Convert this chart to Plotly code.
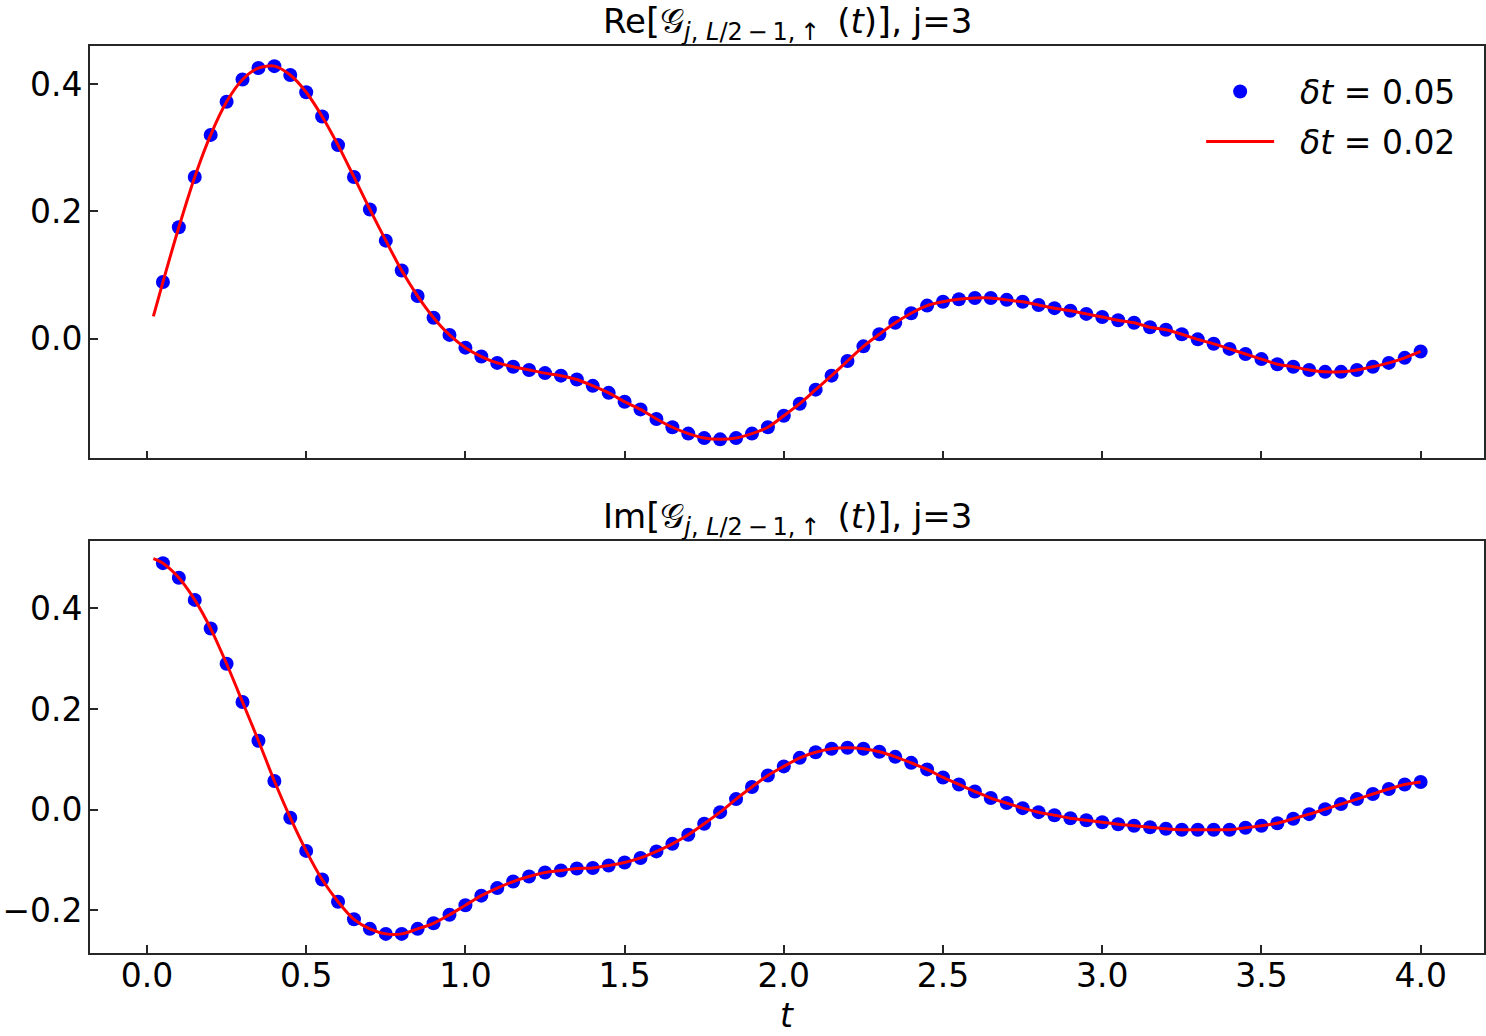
import plotly.graph_objects as go
from plotly.subplots import make_subplots

# ---- data ----
t_dots = [round(0.05 * k, 2) for k in range(1, 81)]  # 0.05 ... 4.00

re_dots = [
    0.089, 0.175, 0.254, 0.320, 0.372, 0.407, 0.425, 0.428, 0.414, 0.387,
    0.349, 0.304, 0.254, 0.203, 0.154, 0.107, 0.067, 0.033, 0.006, -0.014,
    -0.028, -0.038, -0.044, -0.049, -0.054, -0.058, -0.064, -0.074, -0.085, -0.099,
    -0.111, -0.126, -0.139, -0.149, -0.156, -0.158, -0.156, -0.149, -0.139, -0.121,
    -0.102, -0.080, -0.058, -0.035, -0.012, 0.007, 0.025, 0.040, 0.052, 0.058,
    0.062, 0.064, 0.064, 0.061, 0.058, 0.053, 0.048, 0.044, 0.039, 0.034,
    0.029, 0.025, 0.018, 0.014, 0.007, -0.001, -0.008, -0.016, -0.024, -0.032,
    -0.040, -0.044, -0.049, -0.052, -0.052, -0.049, -0.044, -0.038, -0.030, -0.020,
]

im_dots = [
    0.490, 0.461, 0.417, 0.360, 0.290, 0.214, 0.137, 0.057, -0.016, -0.082,
    -0.139, -0.183, -0.218, -0.237, -0.247, -0.247, -0.237, -0.226, -0.209, -0.190,
    -0.171, -0.156, -0.143, -0.133, -0.125, -0.121, -0.117, -0.116, -0.111, -0.105,
    -0.096, -0.083, -0.068, -0.050, -0.028, -0.005, 0.021, 0.045, 0.068, 0.086,
    0.103, 0.114, 0.121, 0.123, 0.121, 0.115, 0.105, 0.093, 0.080, 0.064,
    0.050, 0.036, 0.023, 0.013, 0.003, -0.005, -0.011, -0.017, -0.021, -0.025,
    -0.029, -0.032, -0.035, -0.038, -0.040, -0.040, -0.040, -0.040, -0.036, -0.032,
    -0.027, -0.018, -0.009, 0.001, 0.011, 0.021, 0.031, 0.041, 0.050, 0.055,
]

# red line (dt = 0.02): starts at t = 0.02, then follows the same curve
line_t_start = [0.02]
line_re_start = [0.035]
line_im_start = [0.499]
t_line = line_t_start + t_dots
re_line = line_re_start + re_dots
im_line = line_im_start + im_dots

x_ticks = [0.0, 0.5, 1.0, 1.5, 2.0, 2.5, 3.0, 3.5, 4.0]
y_ticks_top = [0.0, 0.2, 0.4]
y_ticks_bot = [-0.2, 0.0, 0.2, 0.4]

label_dots = "\u00a0\u00a0<i>δt</i> = 0.05"
label_line = "\u00a0\u00a0<i>δt</i> = 0.02"
BR_L = "<span style='font-size:36px'>[</span>"
BR_R = "<span style='font-size:36px'>]</span>"
SUB = "<sub><span style='font-size:24px'><i>j</i>, <i>L</i>/2\u2009−\u20091,\u2009↑</span></sub>"
title_re = f"Re{BR_L}𝒢{SUB}\u2002(<i>t</i>){BR_R}, j=3"
title_im = f"Im{BR_L}𝒢{SUB}\u2002(<i>t</i>){BR_R}, j=3"

FONT = "DejaVu Sans"
FS = 33
FS_TITLE = 34
BLUE = "#0000ff"
RED = "#ff0000"
AX = "#262626"

fig = make_subplots(rows=2, cols=1, shared_xaxes=True,
                    vertical_spacing=0.0905)

# top panel
fig.add_trace(go.Scatter(x=t_dots, y=re_dots, mode="markers", name=label_dots,
                         marker=dict(color=BLUE, size=14), legendgroup="a"),
              row=1, col=1)
fig.add_trace(go.Scatter(x=t_line, y=re_line, mode="lines", name=label_line,
                         line=dict(color=RED, width=3, shape="spline", smoothing=0.8),
                         legendgroup="b"),
              row=1, col=1)
# bottom panel
fig.add_trace(go.Scatter(x=t_dots, y=im_dots, mode="markers", name=label_dots,
                         marker=dict(color=BLUE, size=14), showlegend=False),
              row=2, col=1)
fig.add_trace(go.Scatter(x=t_line, y=im_line, mode="lines", name=label_line,
                         line=dict(color=RED, width=3, shape="spline", smoothing=0.8),
                         showlegend=False),
              row=2, col=1)

axis_common = dict(showline=True, mirror=True, linecolor=AX, linewidth=1.6,
                   ticks="inside", ticklen=8, tickwidth=1.6, tickcolor=AX,
                   showgrid=False, zeroline=False, automargin=False,
                   tickfont=dict(family=FONT, size=FS, color="black"))

fig.update_xaxes(**axis_common, range=[-0.179, 4.199], tickvals=x_ticks,
                 ticktext=[f"{v:.1f}" for v in x_ticks], ticklabelstandoff=-7)
fig.update_xaxes(showticklabels=False, row=1, col=1)

fig.update_yaxes(**axis_common, ticklabelstandoff=-1)
fig.update_yaxes(range=[-0.188, 0.4596], tickvals=y_ticks_top,
                 ticktext=[f"{v:.1f}" for v in y_ticks_top], row=1, col=1)
fig.update_yaxes(range=[-0.285, 0.535], tickvals=y_ticks_bot,
                 ticktext=[f"{v:.1f}".replace("-", "−") for v in y_ticks_bot], row=2, col=1)

fig.update_layout(
    width=1486, height=1036,
    margin=dict(l=90, r=2, t=46, b=83, autoexpand=False),
    paper_bgcolor="white", plot_bgcolor="white",
    font=dict(family=FONT, size=FS, color="black"),
    showlegend=True,
    legend=dict(x=0.9836, xanchor="right", y=0.9806, yanchor="top",
                bgcolor="rgba(255,255,255,0)", borderwidth=0,
                font=dict(family=FONT, size=FS, color="black"),
                itemwidth=68, tracegroupgap=4),
    annotations=[
        dict(text=title_re, xref="x domain", yref="y domain", x=0.5, y=1,
             xanchor="center", yanchor="bottom", yshift=-2, showarrow=False,
             font=dict(family=FONT, size=FS_TITLE, color="black")),
        dict(text=title_im, xref="x2 domain", yref="y2 domain", x=0.5, y=1,
             xanchor="center", yanchor="bottom", yshift=-2, showarrow=False,
             font=dict(family=FONT, size=FS_TITLE, color="black")),
        dict(text="<i>t</i>", xref="x2 domain", yref="y2 domain", x=0.5, y=0,
             xanchor="center", yanchor="top", yshift=-41, showarrow=False,
             font=dict(family=FONT, size=FS, color="black")),
    ],
)

fig.write_html("out.html", config={"displayModeBar": False},
               post_script="document.body.style.margin='0px';")
